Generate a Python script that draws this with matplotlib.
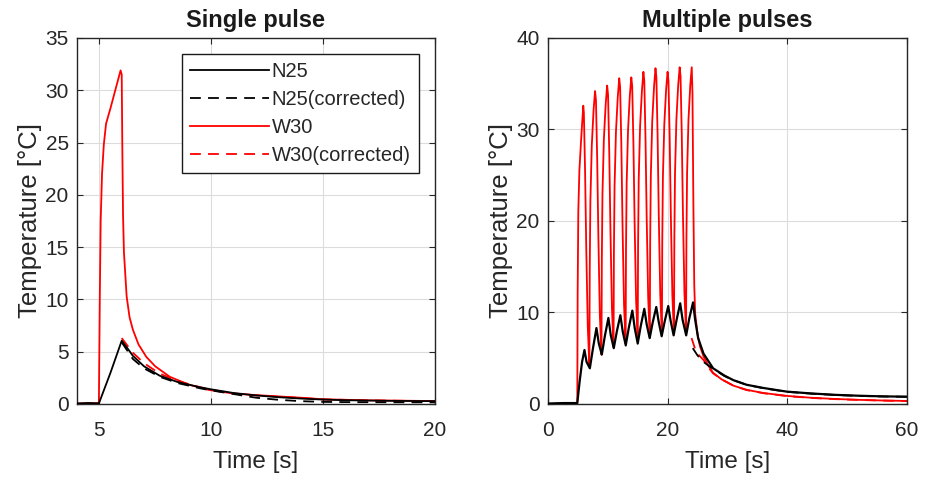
import matplotlib
matplotlib.use("Agg")
import matplotlib.pyplot as plt
from matplotlib.lines import Line2D

plt.rcParams['font.family'] = ['Liberation Sans', 'DejaVu Sans']

# ---------------- Single pulse data ----------------
sp_n25_t = [4, 4.5, 4.98, 5.5, 6.0, 6.3, 6.5, 7.0, 7.7, 8.5, 9.5, 10, 11, 12, 13, 14, 15, 16, 18, 20]
sp_n25_y = [0.05, 0.1, 0.05, 3.0, 6.05, 5.2, 4.6, 3.6, 2.7, 2.1, 1.6, 1.4, 1.05, 0.82, 0.65, 0.52, 0.42, 0.36, 0.3, 0.27]

sp_n25c_t = [6.0, 6.5, 7.0, 7.7, 8.5, 9.5, 10, 11, 12, 13, 14, 15, 16, 18, 20]
sp_n25c_y = [5.9, 4.3, 3.4, 2.6, 2.0, 1.5, 1.3, 0.95, 0.6, 0.4, 0.27, 0.2, 0.18, 0.16, 0.16]

sp_w30_t = [4, 4.5, 4.98, 5.02, 5.06, 5.12, 5.2, 5.3, 5.5, 5.75, 5.95, 6.0, 6.03, 6.06, 6.1, 6.22,
            6.35, 6.5, 6.75, 7.1, 7.5, 8.15, 9.0, 9.9, 11, 12, 14, 15, 17, 20]
sp_w30_y = [0.05, 0.05, 0.1, 10, 17.5, 22, 24.8, 26.8, 28.3, 30.3, 31.9, 31.5, 24, 18, 14.5, 10.3,
            8.3, 7.1, 5.7, 4.5, 3.6, 2.6, 1.85, 1.34, 1.0, 0.85, 0.6, 0.45, 0.35, 0.28]

sp_w30c_t = [6.0, 6.5, 7.0, 7.7, 8.5, 9.5, 10, 11, 12, 14, 15, 17, 20]
sp_w30c_y = [6.3, 4.9, 3.9, 2.9, 2.2, 1.6, 1.35, 1.0, 0.82, 0.58, 0.44, 0.34, 0.27]

# ---------------- Multiple pulses data ----------------
mp_n25_t = [0, 2.5, 4.9, 5.3, 5.7, 6.1, 6.45, 7.0, 7.5, 8.1, 8.5, 9.0, 9.5, 10.1, 10.5, 11.0,
            11.5, 12.1, 12.5, 13.0, 13.5, 14.1, 14.5, 15.0, 15.5, 16.1, 16.5, 17.0, 17.5, 18.1,
            18.5, 19.0, 19.5, 20.1, 20.5, 21.0, 21.5, 22.1, 22.5, 23.1, 23.6, 24.25, 24.6, 25.1,
            26, 27.6, 29.5, 31, 33.2, 36, 39.9, 44, 48, 52, 56, 60]
mp_n25_y = [0.05, 0.1, 0.1, 2.5, 4.6, 5.9, 4.6, 3.9, 6.0, 8.3, 6.6, 5.4, 7.4, 9.4, 7.5, 6.1,
            7.9, 9.7, 7.9, 6.4, 8.3, 10.2, 8.3, 6.6, 8.5, 10.4, 8.7, 7.2, 8.9, 10.6,
            9.0, 7.4, 9.0, 10.7, 9.1, 7.5, 9.2, 11.0, 9.2, 7.5, 9.3, 11.1, 9.2, 7.2,
            5.5, 3.9, 3.1, 2.6, 2.1, 1.75, 1.35, 1.15, 1.0, 0.9, 0.83, 0.8]

mp_n25c_t = [24.2, 25, 26, 26.8, 27.6, 29.5, 31, 33.2, 36, 39.9, 44, 48, 52, 56, 60]
mp_n25c_y = [6.1, 5.3, 4.6, 4.2, 3.85, 3.05, 2.6, 2.1, 1.72, 1.33, 1.13, 0.98, 0.88, 0.82, 0.78]

mp_w30_t = [0, 2.5, 4.9,
            4.96, 5.07, 5.25, 5.55, 5.9, 6.0, 6.2, 6.4, 6.65,
            6.92, 6.98, 7.09, 7.32, 7.62, 7.87, 8.02, 8.22, 8.42, 8.67,
            8.94, 9.0, 9.11, 9.34, 9.64, 9.89, 10.04, 10.24, 10.44, 10.69,
            10.96, 11.02, 11.13, 11.36, 11.66, 11.91, 12.06, 12.26, 12.46, 12.71,
            12.98, 13.04, 13.15, 13.38, 13.68, 13.93, 14.08, 14.28, 14.48, 14.73,
            15.0, 15.06, 15.17, 15.4, 15.7, 15.95, 16.1, 16.3, 16.5, 16.75,
            17.02, 17.08, 17.19, 17.42, 17.72, 17.97, 18.12, 18.32, 18.52, 18.77,
            19.04, 19.1, 19.21, 19.44, 19.74, 19.99, 20.14, 20.34, 20.54, 20.79,
            21.06, 21.12, 21.23, 21.46, 21.76, 22.01, 22.16, 22.36, 22.56, 22.81,
            23.08, 23.14, 23.25, 23.48, 23.78, 24.03, 24.15, 24.3, 24.45, 24.6, 25.0, 25.4,
            26, 26.8, 27.6, 29, 31, 33.2, 36, 40, 44, 48, 52, 56, 60]
mp_w30_y = [0.0, 0.05, 0.1,
            12, 21, 25.5, 29, 32.6, 31.8, 25.5, 17.0, 8.5,
            4.2, 14.7, 22.2, 28.2, 32.1, 34.2, 33.2, 27.0, 18.4, 9.7,
            5.4, 15.7, 23.0, 28.9, 32.7, 34.8, 33.8, 27.6, 19.1, 10.5,
            6.2, 16.5, 23.8, 29.7, 33.5, 35.6, 34.6, 28.4, 19.6, 10.9,
            6.6, 16.8, 24.1, 29.9, 33.7, 35.7, 34.7, 28.5, 19.9, 11.3,
            7.0, 17.3, 24.6, 30.4, 34.2, 36.3, 35.3, 29.0, 20.3, 11.6,
            7.3, 17.6, 24.9, 30.8, 34.6, 36.7, 35.7, 29.4, 20.6, 11.9,
            7.5, 17.6, 24.8, 30.5, 34.3, 36.3, 35.3, 29.1, 20.5, 11.9,
            7.6, 17.8, 25.1, 31.0, 34.8, 36.8, 35.8, 29.5, 20.8, 12.1,
            7.8, 18.0, 25.2, 31.0, 34.8, 36.8, 34.0, 22.0, 13.0, 9.9, 7.6, 6.3,
            5.2, 4.2, 3.4, 2.7, 2.0, 1.55, 1.2, 0.88, 0.68, 0.55, 0.45, 0.38, 0.33]

mp_w30c_t = [24.0, 24.5, 25, 26, 26.8, 27.6, 29, 31, 33.2, 36, 40, 44, 48, 52, 56, 60]
mp_w30c_y = [7.2, 6.2, 5.5, 4.8, 4.0, 3.35, 2.7, 2.0, 1.52, 1.18, 0.86, 0.66, 0.53, 0.44, 0.37, 0.32]

labels = ['N25', 'N25(corrected)', 'W30', 'W30(corrected)']
sp_xticks = [5, 10, 15, 20]
sp_yticks = [0, 5, 10, 15, 20, 25, 30, 35]
mp_xticks = [0, 20, 40, 60]
mp_yticks = [0, 10, 20, 30, 40]

# ---------------- Plot ----------------
fig = plt.figure(figsize=(9.25, 4.83), dpi=100)
ax1 = fig.add_axes([0.0832, 0.1636, 0.387, 0.7578])
ax2 = fig.add_axes([0.5924, 0.1636, 0.3881, 0.7578])

txt = '#262626'
lw = 1.3
dash = (6, 4)

def style(ax, xt, yt, xl, yl, title):
    ax.set_xlim(xl)
    ax.set_ylim(yl)
    ax.set_xticks(xt)
    ax.set_yticks(yt)
    ax.grid(True, color='#dcdcdc', linewidth=0.8)
    ax.set_axisbelow(True)
    ax.tick_params(direction='in', length=4, width=0.8, colors=txt, labelsize=15,
                   top=True, right=True)
    ax.tick_params(axis='x', pad=12)
    ax.tick_params(axis='y', pad=6)
    for s in ax.spines.values():
        s.set_color(txt)
        s.set_linewidth(1.0)
    ax.set_xlabel('Time [s]', fontsize=17.5, color=txt, labelpad=8)
    ax.set_ylabel('Temperature [°C]', fontsize=18.5, color=txt, labelpad=2)
    ax.set_title(title, fontsize=17, fontweight='bold', color='#1a1a1a', pad=8)

# Single pulse
ax1.plot(sp_w30_t, sp_w30_y, color='#ff0000', lw=lw, zorder=2)
ax1.plot(sp_w30c_t, sp_w30c_y, color='#ff0000', lw=lw, dashes=dash, zorder=2)
ax1.plot(sp_n25_t, sp_n25_y, color='black', lw=lw, zorder=3)
ax1.plot(sp_n25c_t, sp_n25c_y, color='black', lw=lw, dashes=dash, zorder=3)
style(ax1, sp_xticks, sp_yticks, (4, 20), (0, 35), 'Single pulse')

# Multiple pulses
ax2.plot(mp_w30_t, mp_w30_y, color='#ff0000', lw=lw, zorder=2)
ax2.plot(mp_w30c_t, mp_w30c_y, color='#ff0000', lw=lw, dashes=dash, zorder=2)
ax2.plot(mp_n25_t, mp_n25_y, color='black', lw=1.6, zorder=3)
ax2.plot(mp_n25c_t, mp_n25c_y, color='black', lw=lw, dashes=dash, zorder=3)
style(ax2, mp_xticks, mp_yticks, (0, 60), (0, 40), 'Multiple pulses')

handles = [Line2D([], [], color='black', lw=lw),
           Line2D([], [], color='black', lw=lw, dashes=dash),
           Line2D([], [], color='#ff0000', lw=lw),
           Line2D([], [], color='#ff0000', lw=lw, dashes=dash)]
leg = ax1.legend(handles, labels, loc='upper right', bbox_to_anchor=(0.955, 0.956),
                 borderaxespad=0, fontsize=14.5, handlelength=3.9, handletextpad=0.15,
                 labelspacing=0.45, borderpad=0.4, fancybox=False, framealpha=1,
                 edgecolor='#1a1a1a')
leg.get_frame().set_linewidth(1.0)
for t in leg.get_texts():
    t.set_color(txt)

fig.savefig('out.png', dpi=100)
